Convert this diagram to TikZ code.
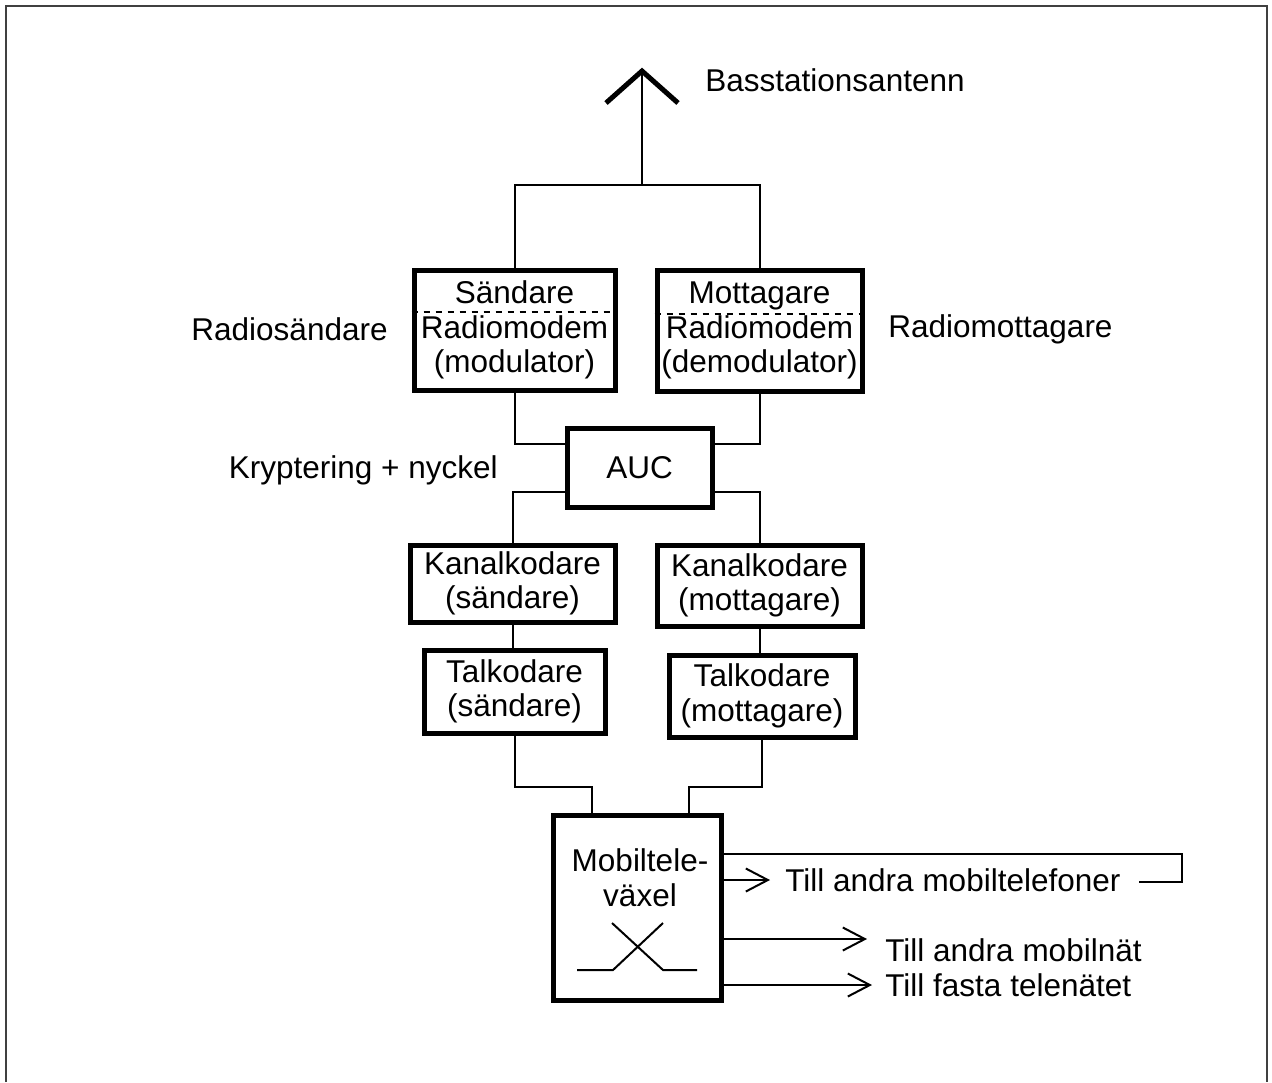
\documentclass[tikz,border=0pt]{standalone}
\usepackage{fontspec}
\setmainfont{Liberation Sans}
\usetikzlibrary{arrows.meta}
\begin{document}
\begin{tikzpicture}[x=0.5pt, y=-0.5pt, font=\fontsize{15.75}{17.25}\selectfont,
  box/.style={draw, line width=2.5pt, align=center, inner sep=0pt},
  wire/.style={line width=1pt},
  outarrow/.style={line width=1pt, -{Straight Barb[length=11pt, width=11.5pt]}},
  lbl/.style={inner sep=0pt, align=center}]
\useasboundingbox (0,0) rectangle (1272,1082);
\draw[line width=0.8pt, black!75] (6,1082) -- (6,6) -- (1267,6) -- (1267,1082);
\node[box, minimum width=100.5pt, minimum height=60pt] (sand) at (514.5,330) {Sändare\\Radiomodem\\(modulator)};
\node[box, minimum width=102.5pt, minimum height=60.5pt] (mott) at (759.5,330.5) {Mottagare\\Radiomodem\\(demodulator)};
\node[box, minimum width=72.5pt, minimum height=39.5pt] (auc) at (639.5,467.5) {AUC};
\node[box, minimum width=102.5pt, minimum height=38.5pt] (kans) at (512.5,583.5) {Kanalkodare\\(sändare)};
\node[box, minimum width=102.5pt, minimum height=40.5pt] (kanm) at (759.5,585.5) {Kanalkodare\\(mottagare)};
\node[box, minimum width=90.5pt, minimum height=41.5pt] (tals) at (514.5,691.5) {Talkodare\\(sändare)};
\node[box, minimum width=93pt, minimum height=41pt] (talm) at (762,696) {Talkodare\\(mottagare)};
\node[box, minimum width=84pt, minimum height=92.5pt] (vax) at (637,907.5) {};
\node[lbl] (vaxt) at (640,877.5) {Mobiltele-\\växel};
\node[lbl, anchor=west] (ant label) at (705,80) {Basstationsantenn};
\node[lbl, anchor=east] (rs) at (388,329) {Radiosändare};
\node[lbl, anchor=west] (rm) at (888,329) {Radiomottagare};
\node[lbl, anchor=east] (kr) at (498,470) {Kryptering + nyckel};
\node[lbl, anchor=west] (t1) at (785,880) {Till andra mobiltelefoner};
\node[lbl, anchor=west] (t2) at (885,950) {Till andra mobilnät};
\node[lbl, anchor=west] (t3) at (885,985) {Till fasta telenätet};
\coordinate (bus) at (642,185);
\coordinate (ant) at (642,71);
\coordinate (mid) at (0,787);
\coordinate (loop) at (1182,882);
\coordinate (a2) at (867,939);
\draw[dashed, line width=0.7pt] ([yshift=9pt]sand.west) -- ([yshift=9pt]sand.east);
\draw[dashed, line width=0.7pt] ([yshift=8.25pt]mott.west) -- ([yshift=8.25pt]mott.east);
\draw[wire] (sand.north) |- (bus) -| (mott.north);
\draw[wire] (bus) -- (ant);
\draw[line width=2.5pt] (ant) ++(-36,32) -- (ant) -- ++(36,32);
\draw[wire] (sand.south) |- ([yshift=12pt]auc.west);
\draw[wire] (mott.south) |- ([yshift=12pt]auc.east);
\draw[wire] ([yshift=-12pt]auc.west) -| (kans.north);
\draw[wire] ([yshift=-12pt]auc.east) -| (kanm.north);
\draw[wire] (kans.south) -- (kans.south |- tals.north);
\draw[wire] (kanm.south) -- (kanm.south |- talm.north);
\draw[wire] (tals.south) -- (tals.south |- mid) -| ([xshift=-22.5pt]vax.north);
\draw[wire] (talm.south) -- (talm.south |- mid) -| ([xshift=26pt]vax.north);
\draw[wire] (vax.center) ++(-60,62.5) -- ++(36,0) -- ++(50,-47);
\draw[wire] (vax.center) ++(-25,15.5) -- ++(51,47) -- ++(34,0);
\draw[wire] ([yshift=27pt]vax.east) -| (loop) -- ([xshift=9pt]t1.east |- loop);
\draw[outarrow] (vax.east |- t1.west) -- ([xshift=-7.5pt]t1.west);
\draw[outarrow] (vax.east |- a2) -- (a2);
\draw[outarrow] (vax.east |- t3.west) -- ([xshift=-6.5pt]t3.west);
\end{tikzpicture}
\end{document}
